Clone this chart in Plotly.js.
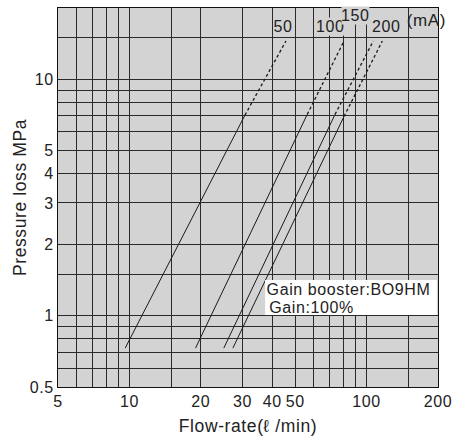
<!DOCTYPE html>
<html>
<head>
<meta charset="utf-8">
<script src="https://cdn.plot.ly/plotly-3.0.1.min.js"></script>
<style>
html,body{margin:0;padding:0;background:#fff;}
#chart{width:464px;height:438px;}
#chart text{letter-spacing:0.6px;}
</style>
</head>
<body>
<div id="chart"></div>
<script>
// Current settings (mA)
const currents = ["50", "100", "150", "200"];
// Flow-rate (l/min): [start, end of solid part, end of dashed part]
const flow50  = [9.6, 30.7, 45.7];
const flow100 = [19.0, 56.2, 80.3];
const flow150 = [25.0, 73.6, 106.7];
const flow200 = [27.3, 80.3, 116.5];
// Pressure loss (MPa) at those points
const press50  = [0.73, 7.05, 14.5];
const press100 = [0.73, 7.1, 14.5];
const press150 = [0.73, 7.1, 14.5];
const press200 = [0.73, 6.96, 14.5];

const xGrid = [5,6,7,8,9,10,15,20,30,40,50,60,70,80,90,100,150,200];
const xLabels = ["5","","","","","10","","20","30","40","50","","","","","100","","200"];
const yGrid = [0.5,0.6,0.7,0.8,0.9,1,1.5,2,3,4,5,6,7,8,9,10,15,20];
const yLabels = ["0.5","","","","","1","","2","3","4","5","","","","","10","",""];

const noteLines = ["Gain booster:BO9HM", "Gain:100%"];

const flows = [flow50, flow100, flow150, flow200];
const presses = [press50, press100, press150, press200];

const traces = [];
flows.forEach((f, i) => {
  const p = presses[i];
  traces.push({x: f.slice(0,2), y: p.slice(0,2), mode: 'lines', name: currents[i],
    line: {color: '#1a1a1a', width: 1}, hoverinfo: 'skip'});
  traces.push({x: f.slice(1,3), y: p.slice(1,3), mode: 'lines', name: currents[i] + ' ext',
    line: {color: '#1a1a1a', width: 1.3, dash: '3px,2.5px'}, hoverinfo: 'skip'});
});

const fam = '"Liberation Sans", Arial, sans-serif';
const bg = '#d3d3d3';
const tickFont = {family: fam, size: 16, color: '#222'};
const titleFont = {family: fam, size: 17.5, color: '#222'};

const lab = (text, x, y, size, fill) => ({xref: 'paper', yref: 'paper', x: x, y: y, text: text,
  xanchor: 'center', yanchor: 'middle',
  showarrow: false, font: {family: fam, size: size || 16, color: '#222'},
  bgcolor: fill || bg, borderpad: 0});

const layout = {
  width: 464, height: 438,
  margin: {l: 58, r: 26, t: 8, b: 51},
  paper_bgcolor: '#ffffff',
  plot_bgcolor: bg,
  showlegend: false,
  font: tickFont,
  xaxis: {
    type: 'log', range: [Math.log10(5), Math.log10(200)],
    tickmode: 'array', tickvals: xGrid, ticktext: xLabels,
    showgrid: true, gridcolor: '#2a2a2a', gridwidth: 1,
    showline: true, mirror: true, linecolor: '#111', linewidth: 1,
    ticks: '', zeroline: false, tickfont: tickFont,
    title: {text: 'Flow-rate(ℓ /min)', font: titleFont, standoff: 10}
  },
  yaxis: {
    type: 'log', range: [Math.log10(0.5), Math.log10(20)],
    tickmode: 'array', tickvals: yGrid, ticktext: yLabels,
    showgrid: true, gridcolor: '#2a2a2a', gridwidth: 1,
    showline: true, mirror: true, linecolor: '#111', linewidth: 1,
    ticks: '', zeroline: false, tickfont: tickFont,
    title: {text: 'Pressure loss MPa', font: titleFont, standoff: 0}
  },
  shapes: [
    {type: 'rect', xref: 'paper', yref: 'paper', x0: 0.545, x1: 0.997, y0: 0.190, y1: 0.282,
     fillcolor: '#ffffff', line: {width: 0}, layer: 'above'}
  ],
  annotations: [
    lab(currents[0], 0.592, 0.950),
    lab(currents[1], 0.717, 0.950),
    lab(currents[2], 0.783, 0.981),
    lab(currents[3], 0.865, 0.951),
    Object.assign(lab('(mA)', 0.971, 0.966, 17), {bgcolor: 'rgba(0,0,0,0)'}),
    Object.assign(lab(noteLines[0], 0.561, 0.258, 16, 'rgba(0,0,0,0)'), {xanchor: 'left'}),
    Object.assign(lab(noteLines[1], 0.561, 0.211, 16, 'rgba(0,0,0,0)'), {xanchor: 'left'})
  ]
};

Plotly.newPlot('chart', traces, layout, {staticPlot: true, displayModeBar: false});
</script>
</body>
</html>
